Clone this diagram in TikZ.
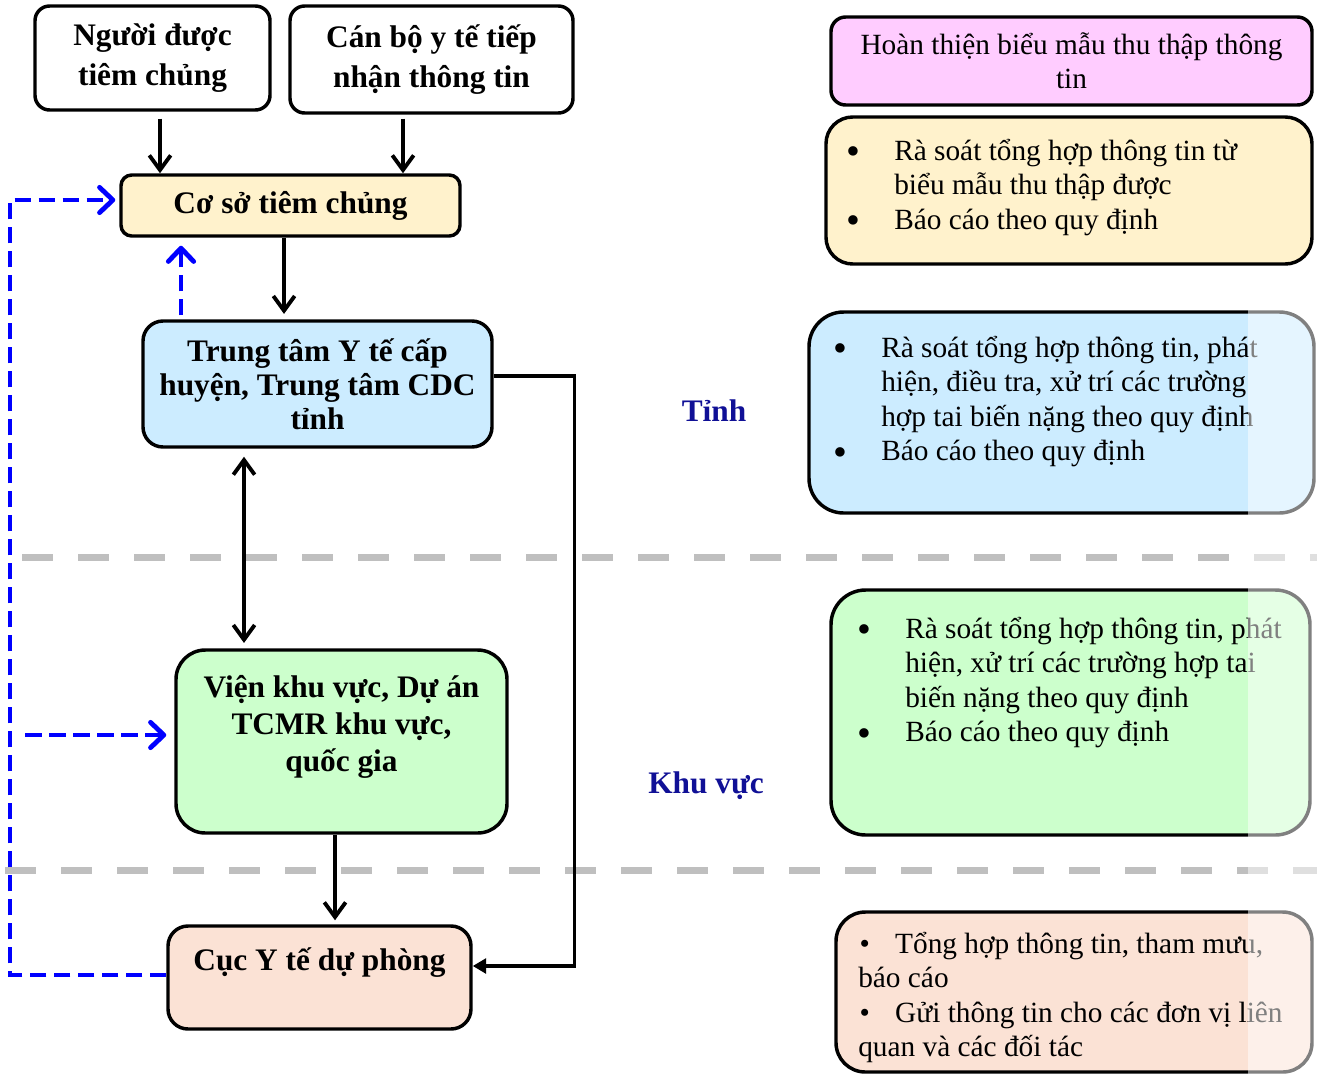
\documentclass[tikz,border=0pt]{standalone}
\usepackage{fontspec}
\setmainfont{Liberation Serif}
\usetikzlibrary{arrows.meta,calc}
\definecolor{cpink}{RGB}{255,204,255}
\definecolor{cyel}{RGB}{255,242,204}
\definecolor{cblue}{RGB}{204,236,255}
\definecolor{cgreen}{RGB}{204,255,204}
\definecolor{cpeach}{RGB}{251,226,213}
\definecolor{cnavy}{RGB}{16,16,150}
\definecolor{cgrey}{RGB}{191,191,191}
\def\u{0.75pt}
\tikzset{
  box/.style={draw=black, line width=2.6pt, inner sep=0pt, align=center},
  tbold/.style={font=\fontsize{23.5pt}{28.5pt}\selectfont\bfseries},
  tnorm/.style={font=\fontsize{22pt}{25.9pt}\selectfont},
  arr/.style={line width=2.9pt, -{Straight Barb[length=11pt,width=16pt,line width=2.9pt]}},
  darr/.style={line width=2.9pt, {Straight Barb[length=11pt,width=16pt,line width=2.9pt]}-{Straight Barb[length=11pt,width=16pt,line width=2.9pt]}},
  tarr/.style={line width=2.6pt, -{Triangle[length=10pt,width=11pt]}},
  bdash/.style={draw=blue, line width=3.6pt, dash pattern=on 12.5pt off 5.5pt},
  barr/.style={bdash, -{Straight Barb[length=10pt,width=19pt,line width=3.6pt,round]}},
  gdash/.style={draw=cgrey, line width=5.25pt, dash pattern=on 23.25pt off 18.75pt},
  lab/.style={font=\fontsize{23.5pt}{28pt}\selectfont\bfseries, text=cnavy, inner sep=0pt},
  ltext/.style={tnorm, anchor=base west, inner sep=0pt},
}
\newcommand\bul[1]{\makebox[#1][l]{\raisebox{-3.5pt}{\scalebox{1.35}{•}}}}
\begin{document}
\begin{tikzpicture}[x=0.75pt,y=-0.75pt]
\useasboundingbox (0,0) rectangle (1317,1075);

% separators
\draw[gdash] (22,557) -- (1317,557);
\draw[gdash] (5,870) -- (1317,870);

% left flow boxes
\node[box, rounded corners=11pt, minimum width=235*\u, minimum height=104*\u,
      font=\fontsize{23.5pt}{29.5pt}\selectfont\bfseries] (A) at (152.5,58) {Người được\\tiêm chủng};
\node[box, rounded corners=11pt, minimum width=283*\u, minimum height=107*\u,
      font=\fontsize{23.5pt}{29.5pt}\selectfont\bfseries] (B) at (431.5,59.5) {Cán bộ y tế tiếp\\nhận thông tin};
\node[box, tbold, fill=cyel, rounded corners=8pt, minimum width=339*\u, minimum height=61*\u] (C) at (290.5,205.5) {Cơ sở tiêm chủng};
\node[box, fill=cblue, rounded corners=15pt, minimum width=349*\u, minimum height=126*\u,
      font=\fontsize{23.5pt}{25.5pt}\selectfont\bfseries] (D) at (317.5,384) {Trung tâm Y tế cấp\\huyện, Trung tâm CDC\\tỉnh};
\node[box, fill=cgreen, rounded corners=22pt, minimum width=331*\u, minimum height=183*\u,
      font=\fontsize{23.5pt}{28pt}\selectfont\bfseries] (E) at (341.5,741.5) {Viện khu vực, Dự án\\TCMR khu vực,\\quốc gia\\[-9.5pt]\strut};
\node[box, tbold, fill=cpeach, rounded corners=15pt, minimum width=303*\u, minimum height=103*\u] (F) at (319.5,977.5) {Cục Y tế dự phòng\\[-10pt]\strut};

% level labels
\node[lab] (tinh) at (714,411) {Tỉnh};
\node[lab] (kv) at (706,786) {Khu vực};

% right boxes
\node[box, fill=cpink, rounded corners=11pt, minimum width=481*\u, minimum height=88*\u,
      font=\fontsize{22pt}{25.5pt}\selectfont] (R1) at (1071.5,61) {Hoàn thiện biểu mẫu thu thập thông\\tin};
\node[box, fill=cyel, rounded corners=20pt, minimum width=486*\u, minimum height=147*\u] (R2) at (1069,190.5) {};
\node[box, fill=cblue, rounded corners=26pt, minimum width=505*\u, minimum height=201*\u] (R3) at (1061.5,412.5) {};
\node[box, fill=cgreen, rounded corners=26pt, minimum width=479*\u, minimum height=245*\u] (R4) at (1070.5,712.5) {};
\node[box, fill=cpeach, rounded corners=22pt, minimum width=476*\u, minimum height=160*\u] (R5) at (1074,992) {};

\node[ltext] (R2t) at (846,160) {\parbox[t]{400pt}{\raggedright
  \bul{36pt}Rà soát tổng hợp thông tin từ\\
  \hspace*{36pt}biểu mẫu thu thập được\\
  \bul{36pt}Báo cáo theo quy định}};
\node[ltext] (R3t) at (833,357) {\parbox[t]{400pt}{\raggedright
  \bul{36pt}Rà soát tổng hợp thông tin, phát\\
  \hspace*{36pt}hiện, điều tra, xử trí các trường\\
  \hspace*{36pt}hợp tai biến nặng theo quy định\\
  \bul{36pt}Báo cáo theo quy định}};
\node[ltext] (R4t) at (857,638) {\parbox[t]{400pt}{\raggedright
  \bul{36pt}Rà soát tổng hợp thông tin, phát\\
  \hspace*{36pt}hiện, xử trí các trường hợp tai\\
  \hspace*{36pt}biến nặng theo quy định\\
  \bul{36pt}Báo cáo theo quy định}};
\node[ltext] (R5t) at (858,953) {\parbox[t]{400pt}{\raggedright
  \hspace*{1pt}•\hspace{19pt}Tổng hợp thông tin, tham mưu,\\
  báo cáo\\
  \hspace*{1pt}•\hspace{19pt}Gửi thông tin cho các đơn vị liên\\
  quan và các đối tác}};

% connectors
\draw[arr] ([shift={(7.5,7)}]A.south) coordinate (a1) -- (a1 |- C.north);
\draw[arr] ([shift={(-28.5,4)}]B.south) coordinate (b1) -- (b1 |- C.north);
\draw[arr, shorten >=4pt] ([shift={(-6.5,0)}]C.south) coordinate (c1) -- (c1 |- D.north);
\draw[barr, shorten >=6pt] ([shift={(-136.5,-4)}]D.north) coordinate (d1) -- (d1 |- C.south);
\draw[darr, shorten >=4pt, shorten <=6pt] ([shift={(-73.5,0)}]D.south) coordinate (d2) -- (d2 |- E.north);
\draw[arr, shorten >=3pt] ([shift={(-6.5,0)}]E.south) coordinate (e1) -- (e1 |- F.north);
\draw[tarr] ([shift={(0,-8)}]D.east) -- ++(81,0) |- ([shift={(0,-11.5)}]F.east);

\coordinate (lft) at (10,200);
\coordinate (lft2) at (25,200);
\coordinate (e2) at ([shift={(0,-6.5)}]E.west);
\draw[barr, shorten >=3pt] ([shift={(0,-2.5)}]F.west) -| (lft) -- ([shift={(0,-5.5)}]C.west);
\draw[barr, shorten >=6pt] (lft2 |- e2) -- (e2);

% faded right strip
\fill[white, opacity=0.5] (1248,295) rectangle (1317,1075);
\end{tikzpicture}
\end{document}
